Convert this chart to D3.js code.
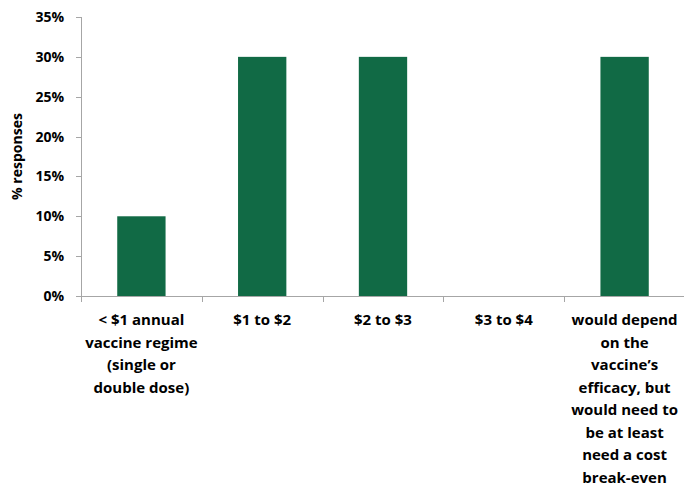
<!DOCTYPE html>
<html><head><meta charset="utf-8">
<script src="https://cdn.jsdelivr.net/npm/d3@7"></script>
<style>body{margin:0;background:#fff}</style>
</head><body>
<svg id="c" width="684" height="489"></svg>
<script>
const categories = [
  ["< $1 annual", "vaccine regime", "(single or", "double dose)"],
  ["$1 to $2"],
  ["$2 to $3"],
  ["$3 to $4"],
  ["would depend", "on the", "vaccine\u2019s", "efficacy,  but", "would need to", "be at least", "need a cost", "break-even"]
];
const values = [0.10, 0.30, 0.30, 0, 0.30];
const yTicks = [0, 0.05, 0.10, 0.15, 0.20, 0.25, 0.30, 0.35];
const yTitle = "% responses";

const svg = d3.select("#c");
const font = "'Open Sans', 'Liberation Sans', sans-serif";
const pL = 81, pR = 685, pT = 17, pB = 296;
const x = d3.scaleBand().domain(d3.range(categories.length)).range([pL, pR]).paddingInner(0.6).paddingOuter(0.3);
const xb = d3.scaleBand().domain(d3.range(categories.length)).range([pL, pR]);
const y = d3.scaleLinear().domain([0, 0.35]).range([pB, pT]);

svg.selectAll("rect.bar").data(values).join("rect")
  .attr("x", (d,i)=>x(i))
  .attr("width", x.bandwidth())
  .attr("y", d=>y(d)).attr("height", d=>pB - y(d))
  .attr("fill", "#116a45");

const axisColor = "#a6a6a6";
svg.append("line").attr("x1", pL+0.5).attr("x2", pL+0.5).attr("y1", pT).attr("y2", pB).attr("stroke", axisColor);
svg.selectAll("line.yt").data(yTicks).join("line")
  .attr("x1", pL-5).attr("x2", pL).attr("y1", d=>Math.round(y(d))+0.5).attr("y2", d=>Math.round(y(d))+0.5).attr("stroke", axisColor);
svg.selectAll("text.yl").data(yTicks).join("text")
  .attr("x", 64).attr("y", d=>y(d)+5).attr("text-anchor","end")
  .attr("font-family", font).attr("font-weight","bold").attr("font-size", 14).attr("fill","#000")
  .text(d=>d3.format(".0%")(d));
svg.append("line").attr("x1", pL).attr("x2", pR).attr("y1", pB+0.5).attr("y2", pB+0.5).attr("stroke", axisColor);
const xTickPos = d3.range(categories.length+1).map(i=> i<categories.length ? xb(i) : pR-1);
svg.selectAll("line.xt").data(xTickPos).join("line")
  .attr("x1", d=>Math.round(d)+0.5).attr("x2", d=>Math.round(d)+0.5).attr("y1", pB).attr("y2", pB+6).attr("stroke", axisColor);
categories.forEach((lines,i)=>{
  const t = svg.append("text").attr("text-anchor","middle")
    .attr("font-family", font).attr("font-weight","bold").attr("font-size", 15).attr("fill","#000");
  lines.forEach((l,j)=>{
    t.append("tspan").attr("x", xb(i)+xb.bandwidth()/2).attr("y", 325 + j*22.5).text(l);
  });
});
svg.append("text").attr("transform", `translate(22,${(pT+pB)/2}) rotate(-90)`)
  .attr("text-anchor","middle").attr("font-family", font).attr("font-weight","bold").attr("font-size", 14)
  .text(yTitle);
</script>
</body></html>
